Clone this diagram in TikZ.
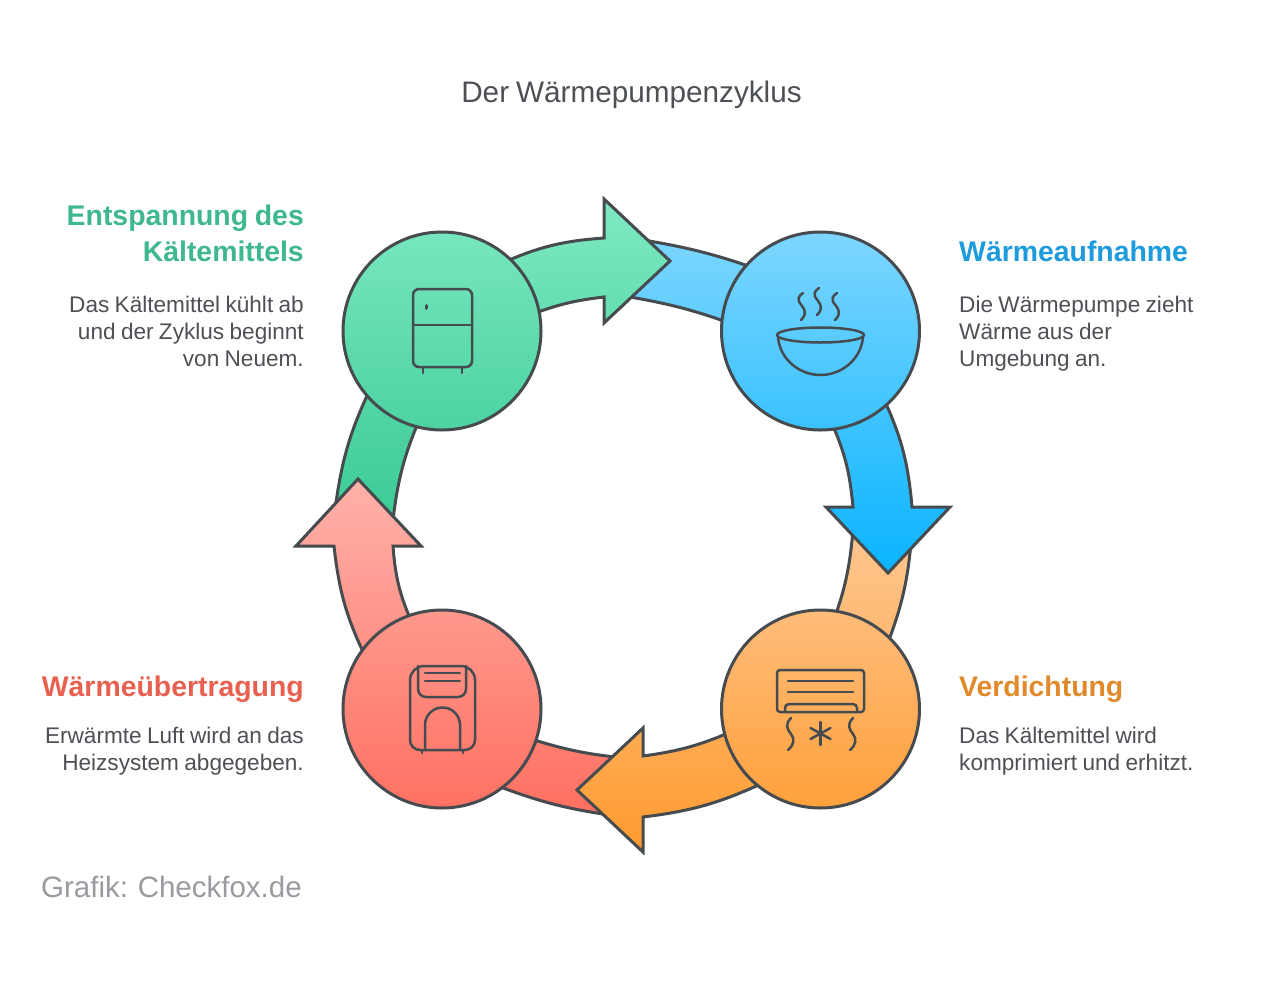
\documentclass[tikz,border=0pt]{standalone}
\usepackage{fontspec}
\setmainfont[WordSpace=0.85]{Liberation Sans}
\definecolor{ink}{HTML}{454B4F}
\definecolor{gA}{HTML}{7EE9C2}\definecolor{gB}{HTML}{3BCB96}
\definecolor{bA}{HTML}{7DD6FF}\definecolor{bB}{HTML}{0AB4FF}
\definecolor{oA}{HTML}{FFC68F}\definecolor{oB}{HTML}{FF9A2E}
\definecolor{rA}{HTML}{FFB2AA}\definecolor{rB}{HTML}{FF6F60}
\definecolor{txt}{HTML}{4D5055}
\tikzset{
 x=1pt,y=1pt,
 outl/.style={draw=ink,line width=3pt,line join=miter,miter limit=6},
 hub/.style={circle,draw=ink,line width=3pt,minimum size=198pt,inner sep=0pt},
 glyph/.style={draw=ink,line width=2.5pt,line cap=round,line join=round},
 body/.style={font=\fontsize{22.6}{27}\selectfont,text=txt,inner sep=0pt},
 headl/.style={font=\fontsize{28.4}{36}\selectfont\bfseries,inner sep=0pt},
}
\begin{document}
\begin{tikzpicture}
\useasboundingbox (0,0) rectangle (1263,-980);
\fill[white] (0,0) rectangle (1263,-980);
% tails
\path[outl,top color=bA!98!bB,bottom color=bA!74!bB] (640,-239.5) to[bend left=5] (760,-270) -- (735,-325) to[bend right=5] (630,-297) -- cycle;
\path[outl,top color=oA,bottom color=oA!66!oB] (912,-530) to[bend left=9] (883,-655) -- (830,-630) to[bend right=8] (853,-530) -- cycle;
\path[outl,top color=rA!23!rB,bottom color=rB] (625,-758) to[bend right=-6] (528,-738) -- (490,-783) to[bend left=-7] (625,-817) -- cycle;
\path[outl,top color=gA!41!gB,bottom color=gB] (335,-510) to[bend left=9] (372,-385) -- (420,-418) to[bend right=8] (393,-520) -- cycle;
% arrows
\path[outl,top color=gA,bottom color=gA!61!gB] (500,-264) to[bend left=10] (604,-238) -- (604,-199) -- (670,-261) -- (604,-323) -- (604,-297) to[bend right=7] (530,-315) -- cycle;
\path[outl,top color=bA!51!bB,bottom color=bB] (882,-395) to[bend left=10] (912,-507) -- (950,-507) -- (888,-573) -- (826,-507) -- (853,-507) to[bend right=10] (828,-415) -- cycle;
\path[outl,top color=oA!40!oB,bottom color=oB] (765,-782) to[bend left=9] (643,-817) -- (643,-852) -- (577,-790) -- (643,-728) -- (643,-756) to[bend right=8] (735,-730) -- cycle;
\path[outl,top color=rA,bottom color=rA!46!rB] (368,-662) to[bend left=10] (334,-546) -- (296,-546) -- (358,-479) -- (421,-546) -- (393,-546) to[bend right=10] (413,-625) -- cycle;
% hubs
\node[hub,top color=gA!90!gB,bottom color=gA!27!gB] (fridge) at (442,-331) {};
\node[hub,top color=bA,bottom color=bA!42!bB] (bowl) at (820.5,-331) {};
\node[hub,top color=oA!78!oB,bottom color=oA!14!oB] (ac) at (820.5,-709) {};
\node[hub,top color=rA!61!rB,bottom color=rA!3!rB] (heater) at (442,-709) {};
% fridge icon
\draw[glyph] (413,-295) arc[start angle=180,end angle=90,radius=6pt] -- (466,-289) arc[start angle=90,end angle=0,radius=6pt] -- (472,-361) arc[start angle=0,end angle=-90,radius=6pt] -- (419,-367) arc[start angle=270,end angle=180,radius=6pt] -- cycle;
\draw[glyph] (413,-325) -- (472,-325);
\draw[glyph,line width=3pt] (426,-305.5) -- (426,-308.5);
\draw[glyph] (423,-367) -- (423,-373);
\draw[glyph] (462,-367) -- (462,-373);
% bowl icon
\draw[glyph] (820.5,-335) ellipse [x radius=43.5pt,y radius=7.5pt];
\draw[glyph] (778,-337) .. controls (780,-360) and (800,-375) .. (820.5,-375) .. controls (841,-375) and (861,-360) .. (863,-337);
\foreach \sx/\sy in {803/-293,819/-288,837/-293}{
 \draw[glyph] (\sx,\sy) .. controls (\sx-10,\sy-7) and (\sx-1,\sy-11) .. (\sx+1,\sy-16) .. controls (\sx+3,\sy-21) and (\sx+1,\sy-24) .. (\sx-2,\sy-27);
}
% ac icon
\draw[glyph] (780,-670) -- (861,-670) arc[start angle=90,end angle=0,radius=3pt] -- (864,-709) arc[start angle=0,end angle=-90,radius=3pt] -- (780,-712) arc[start angle=270,end angle=180,radius=3pt] -- (777,-673) arc[start angle=180,end angle=90,radius=3pt] -- cycle;
\draw[glyph] (788,-681) -- (853,-681);
\draw[glyph] (788,-692) -- (853,-692);
\draw[glyph] (785,-712) -- (785,-708) arc[start angle=180,end angle=90,radius=4pt] -- (853,-704) arc[start angle=90,end angle=0,radius=4pt] -- (857,-712);
\foreach \sx in {789,851}{
 \draw[glyph] (\sx+2,-718) .. controls (\sx-5,-725) and (\sx-1,-730) .. (\sx+2,-734) .. controls (\sx+6,-739) and (\sx+5,-745) .. (\sx-1,-750);
}
\draw[glyph] (820.5,-722) -- (820.5,-745);
\draw[glyph] (810.5,-728) -- (830.5,-739);
\draw[glyph] (810.5,-739) -- (830.5,-728);
% heater icon
\draw[glyph] (410,-680) arc[start angle=180,end angle=90,radius=14pt] -- (461,-666) arc[start angle=90,end angle=0,radius=14pt] -- (475,-740) arc[start angle=0,end angle=-90,radius=10pt] -- (420,-750) arc[start angle=270,end angle=180,radius=10pt] -- cycle;
\draw[glyph] (418,-666) -- (418,-689) arc[start angle=180,end angle=270,radius=8pt] -- (458,-697) arc[start angle=270,end angle=360,radius=8pt] -- (466,-666);
\draw[glyph] (425,-673) -- (460,-673);
\draw[glyph] (425,-681) -- (460,-681);
\draw[glyph] (425,-750) -- (425,-725) arc[start angle=180,end angle=0,radius=17.5pt] -- (460,-750);
\draw[glyph] (422,-750) -- (422,-753);
\draw[glyph] (463,-750) -- (463,-753);
% texts
\node[font=\fontsize{29.7}{34}\selectfont,text=txt,inner sep=0pt,anchor=base] (title) at (631.5,-102) {Der Wärmepumpenzyklus};
\node[headl,text={rgb,255:red,62;green,184;blue,140},anchor=base east] (h1a) at (304,-225) {Entspannung des};
\node[headl,text={rgb,255:red,62;green,184;blue,140},anchor=base east] (h1b) at (304,-261) {Kältemittels};
\node[body,align=right,anchor=north east] (t1) at (304,-295.5) {Das Kältemittel kühlt ab\\und der Zyklus beginnt\\von Neuem.};
\node[headl,text={rgb,255:red,30;green,155;blue,220},anchor=base west] (h2) at (959,-261) {Wärmeaufnahme};
\node[body,align=left,anchor=north west] (t2) at (959,-295.5) {Die Wärmepumpe zieht\\Wärme aus der\\Umgebung an.};
\node[headl,text={rgb,255:red,224;green,138;blue,43},anchor=base west] (h3) at (959,-696) {Verdichtung};
\node[body,align=left,anchor=north west] (t3) at (959,-726.5) {Das Kältemittel wird\\komprimiert und erhitzt.};
\node[headl,text={rgb,255:red,232;green,96;blue,79},anchor=base east] (h4) at (304,-696) {Wärmeübertragung};
\node[body,align=right,anchor=north east] (t4) at (304,-726.5) {Erwärmte Luft wird an das\\Heizsystem abgegeben.};
\node[font=\fontsize{29.5}{36}\selectfont,text={rgb,255:red,154;green,154;blue,160},inner sep=0pt,anchor=base west] (foot) at (41,-897) {Grafik: Checkfox.de};
\end{tikzpicture}
\end{document}
